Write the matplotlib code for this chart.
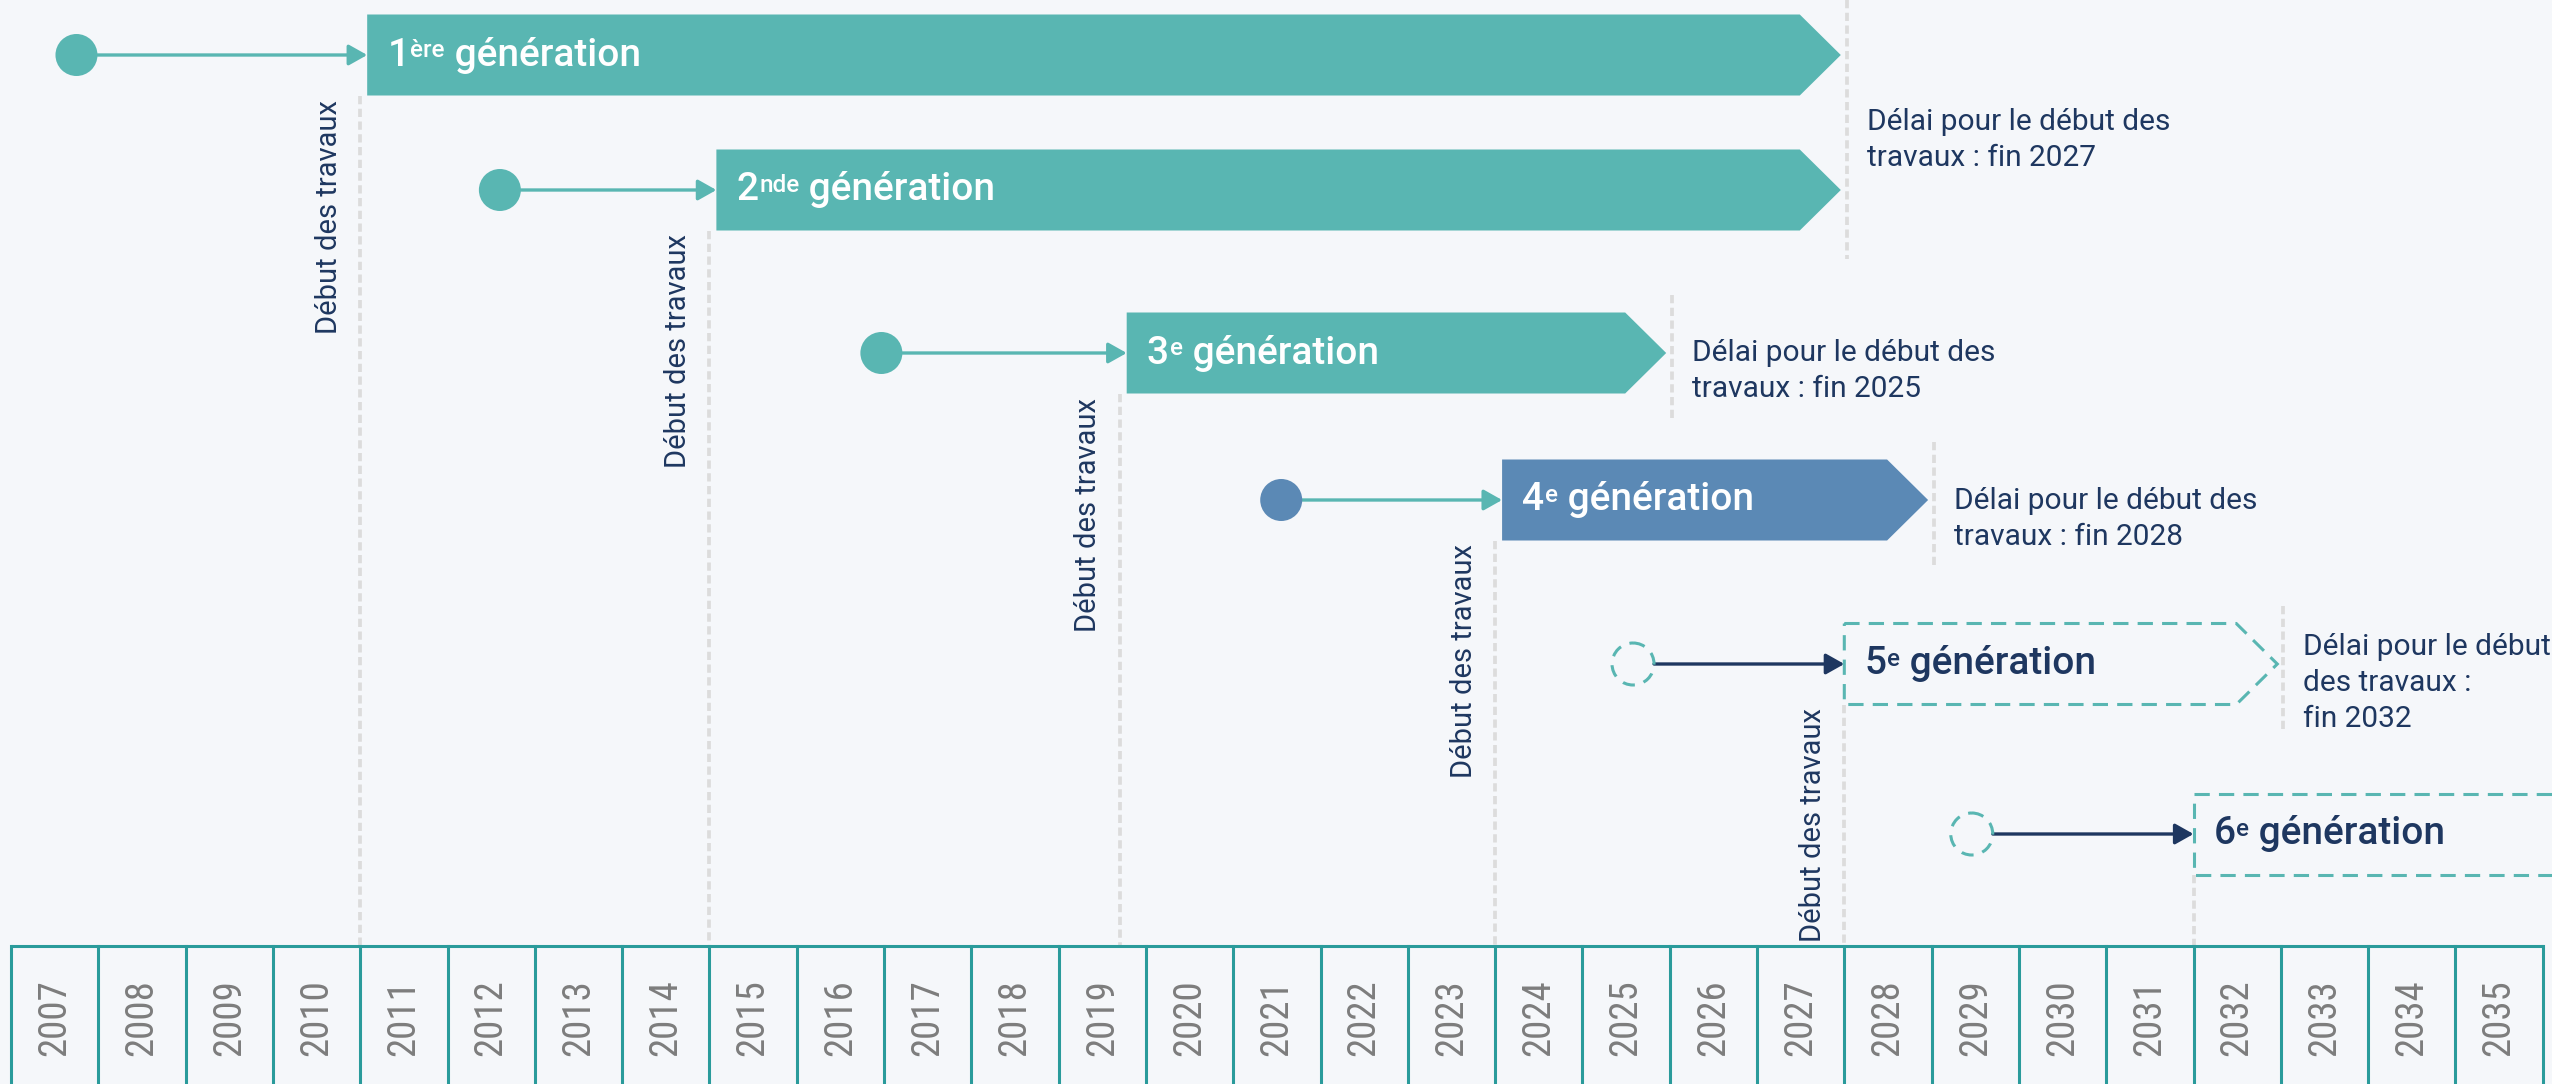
import matplotlib
matplotlib.use("Agg")
import matplotlib.pyplot as plt
from matplotlib import font_manager
from matplotlib.patches import Polygon, Ellipse

# --- data -------------------------------------------------------------
years = list(range(2007, 2036))
gen_num = ['1', '2', '3', '4', '5', '6']
gen_sup = ['ère', 'nde', 'e', 'e', 'e', 'e']
announce = [2007.75, 2012.6, 2016.97, 2021.55, 2025.58, 2029.46]   # circle
works_start = [2011.0, 2015.0, 2019.7, 2024.0, 2028.0, 2032.0]
deadline = [2028.0, 2028.0, 2026.0, 2029.0, 2033.0, None]          # end of bar
deadline_text = ['Délai pour le début des\ntravaux : fin 2027', None,
                 'Délai pour le début des\ntravaux : fin 2025',
                 'Délai pour le début des\ntravaux : fin 2028',
                 'Délai pour le début\ndes travaux :\nfin 2032', None]
status = ['done', 'done', 'done', 'current', 'planned', 'planned']

# --- layout (pixels, figure is 2552 x 1084) ----------------------------
row_y = [55, 190, 353, 500, 664, 834]
text_y = [140, None, 371, 519, 683, None]
bar_h = 81
year_top = 946
col_px = 87.3
x_left_px = 11

bg = '#f5f7fa'
teal = '#59b6b2'
blue = '#5b89b5'
navy = '#1e3760'
grid_c = '#2a9b9b'
grey_line = '#dcdcdc'

names = {f.name for f in font_manager.fontManager.ttflist}
narrow = next((n for n in ['Liberation Sans Narrow', 'Roboto Condensed', 'Arial Narrow']
               if n in names), 'Roboto')
main_font = 'Roboto'

fig = plt.figure(figsize=(25.52, 10.84), dpi=100, facecolor=bg)
ax = fig.add_axes([0, 0, 1, 1])
ax.set_facecolor(bg)
ax.set_xlim(2007 - x_left_px / col_px, 2007 + (2552 - x_left_px) / col_px)
ax.set_ylim(1084, 0)
ax.axis('off')

yr_per_px = 1 / col_px
head = 0.47
circ_r = 21

# year strip
ax.plot([years[0], years[-1] + 1], [year_top, year_top], color=grid_c, lw=2.2,
        solid_capstyle='butt')
for y in years + [years[-1] + 1]:
    ax.plot([y, y], [year_top, 1090], color=grid_c, lw=2.2)
for y in years:
    ax.text(y + 0.5, 1018, str(y), rotation=90, ha='center', va='center',
            fontsize=28, color='#7d7d7d', family=narrow)

gen_word = ' génération'


def gen_label(x, y, num, sup, color):
    kw = dict(color=color, family=main_font, fontweight=500)
    t1 = ax.text(x, y, num, ha='left', va='center', fontsize=28, **kw)
    t2 = ax.annotate(sup, xy=(1, 1), xycoords=t1, xytext=(0.5, -1.5),
                     textcoords='offset points', ha='left', va='top',
                     fontsize=17.5, **kw)
    ax.annotate(gen_word, xy=(1, 0), xycoords=(t2, t1), ha='left',
                va='bottom', fontsize=28, **kw)


for i in range(len(gen_num)):
    yc = row_y[i]
    top, bot = yc - bar_h / 2, yc + bar_h / 2
    planned = status[i] == 'planned'
    left = works_start[i] if planned else works_start[i] + 0.08
    right = deadline[i] - 0.04 if deadline[i] else years[-1] + 3

    # bar
    pts = [(left, top), (right - head, top), (right, yc), (right - head, bot), (left, bot)]
    if planned:
        ax.add_patch(Polygon(pts, closed=True, facecolor='none', edgecolor=teal,
                             lw=2.2, linestyle=(0, (5, 3)), zorder=3))
        txt_c, arr_c = navy, navy
    else:
        fill = blue if status[i] == 'current' else teal
        ax.add_patch(Polygon(pts, closed=True, facecolor=fill, edgecolor='none', zorder=3))
        txt_c, arr_c = 'white', teal
    gen_label(left + 0.23, yc, gen_num[i], gen_sup[i], txt_c)

    # announcement circle + arrow
    w = 2 * circ_r * yr_per_px
    if planned:
        ax.add_patch(Ellipse((announce[i], yc), w, 2 * circ_r, facecolor='none',
                             edgecolor=teal, lw=2.2, linestyle=(0, (4, 3)), zorder=3))
    else:
        ax.add_patch(Ellipse((announce[i], yc), w, 2 * circ_r, facecolor=fill,
                             edgecolor='none', zorder=3))
    ax.annotate('', xy=(left, yc), xytext=(announce[i] + circ_r * yr_per_px, yc),
                arrowprops=dict(arrowstyle='-|>,head_length=0.8,head_width=0.45',
                                mutation_scale=14, lw=2.4, color=arr_c,
                                shrinkA=0, shrinkB=0), zorder=2)

    # start of works
    ax.plot([works_start[i], works_start[i]], [bot, year_top], color=grey_line,
            lw=2.7, linestyle=(0, (2.2, 1.2)), zorder=1)
    if i < 5:
        ax.text(works_start[i] - 0.2, bot + 4, 'Début des travaux', rotation=90,
                ha='right', va='top', fontsize=21, color=navy, family=main_font)

    # deadline
    if deadline_text[i]:
        rows = [k for k in range(len(deadline)) if deadline[k] == deadline[i]]
        y0 = max(min(row_y[k] for k in rows) - bar_h / 2 - 18, 0)
        y1 = max(row_y[k] for k in rows) + bar_h / 2 + 28
        ax.plot([deadline[i] + 0.03, deadline[i] + 0.03], [y0, y1], color=grey_line,
                lw=2.7, linestyle=(0, (2.2, 1.2)), zorder=1)
        ax.text(deadline[i] + 0.26, text_y[i], deadline_text[i], ha='left',
                va='center', fontsize=21.5, color=navy, family=main_font,
                linespacing=1.38)

fig.savefig('out.png', dpi=100, facecolor=bg)
